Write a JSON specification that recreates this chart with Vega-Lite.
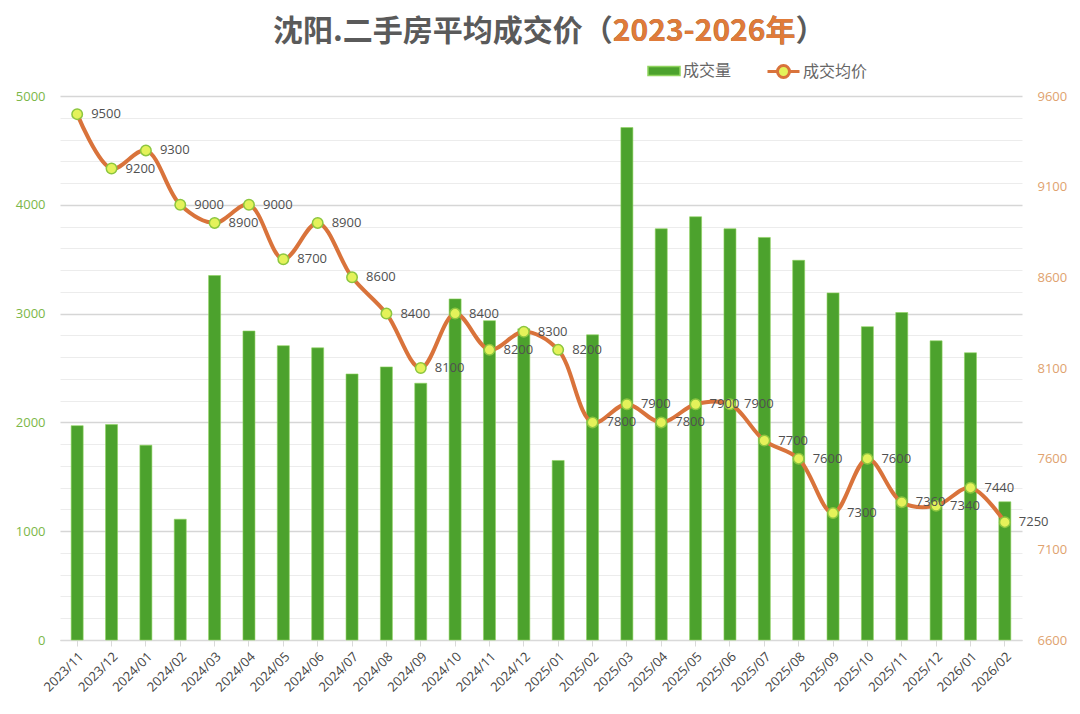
{
  "$schema": "https://vega.github.io/schema/vega-lite/v6.json",
  "width": 962,
  "height": 544,
  "autosize": "none",
  "padding": {"left": 60, "top": 96, "right": 58, "bottom": 74},
  "background": "white",
  "data": {
    "values": [
      {"month": "2023/11", "vol": 1970, "price": 9500},
      {"month": "2023/12", "vol": 1980, "price": 9200},
      {"month": "2024/01", "vol": 1790, "price": 9300},
      {"month": "2024/02", "vol": 1110, "price": 9000},
      {"month": "2024/03", "vol": 3350, "price": 8900},
      {"month": "2024/04", "vol": 2840, "price": 9000},
      {"month": "2024/05", "vol": 2705, "price": 8700},
      {"month": "2024/06", "vol": 2685, "price": 8900},
      {"month": "2024/07", "vol": 2445, "price": 8600},
      {"month": "2024/08", "vol": 2510, "price": 8400},
      {"month": "2024/09", "vol": 2360, "price": 8100},
      {"month": "2024/10", "vol": 3135, "price": 8400},
      {"month": "2024/11", "vol": 2935, "price": 8200},
      {"month": "2024/12", "vol": 2860, "price": 8300},
      {"month": "2025/01", "vol": 1650, "price": 8200},
      {"month": "2025/02", "vol": 2805, "price": 7800},
      {"month": "2025/03", "vol": 4710, "price": 7900},
      {"month": "2025/04", "vol": 3780, "price": 7800},
      {"month": "2025/05", "vol": 3890, "price": 7900},
      {"month": "2025/06", "vol": 3780, "price": 7900},
      {"month": "2025/07", "vol": 3700, "price": 7700},
      {"month": "2025/08", "vol": 3490, "price": 7600},
      {"month": "2025/09", "vol": 3190, "price": 7300},
      {"month": "2025/10", "vol": 2880, "price": 7600},
      {"month": "2025/11", "vol": 3010, "price": 7360},
      {"month": "2025/12", "vol": 2750, "price": 7340},
      {"month": "2026/01", "vol": 2640, "price": 7440},
      {"month": "2026/02", "vol": 1270, "price": 7250}
    ]
  },
  "encoding": {
    "x": {
      "field": "month",
      "type": "ordinal",
      "sort": null,
      "title": null,
      "scale": {"paddingInner": 0, "paddingOuter": 0},
      "axis": {
        "labelAngle": -45,
        "labelAlign": "right",
        "labelFont": "Open Sans",
        "labelFontSize": 13,
        "labelColor": "#444444",
        "labelPadding": 4,
        "domainColor": "#d9d9d9",
        "tickColor": "#d9d9d9",
        "tickSize": 6
      }
    }
  },
  "layer": [
    {
      "mark": {"type": "bar", "size": 12, "color": "#4ca22d", "stroke": "#8fd45e", "strokeWidth": 0.6},
      "encoding": {
        "y": {
          "field": "vol",
          "type": "quantitative",
          "title": "沈阳.二手房平均成交价（2023-2026年）",
          "scale": {"domain": [0, 5000], "nice": false},
          "axis": {
            "values": [0, 200, 400, 600, 800, 1000, 1200, 1400, 1600, 1800, 2000, 2200, 2400, 2600, 2800, 3000, 3200, 3400, 3600, 3800, 4000, 4200, 4400, 4600, 4800, 5000],
            "labelExpr": "datum.value % 1000 === 0 ? datum.value : ''",
            "labelFont": "Open Sans",
            "labelFontSize": 13,
            "labelColor": "#7cb748",
            "labelPadding": 15,
            "domain": false,
            "ticks": false,
            "grid": true,
            "gridColor": {"condition": {"test": "datum.value % 1000 === 0", "value": "#d6d6d6"}, "value": "#ececec"},
            "gridWidth": {"condition": {"test": "datum.value % 1000 === 0", "value": 1.4}, "value": 1},
            "titleAngle": 0,
            "titleAlign": "right",
            "titleBaseline": "alphabetic",
            "titleX": 765,
            "titleY": -56,
            "titleFont": "Noto Sans CJK SC",
            "titleFontSize": 30,
            "titleFontWeight": "bold",
            "titleColor": "#5a5a5a"
          }
        },
        "color": {
          "datum": "成交量",
          "type": "nominal",
          "scale": {"domain": ["成交量"], "range": ["#4ca22d"]},
          "legend": {
            "title": null,
            "orient": "none",
            "legendX": 593,
            "legendY": -36,
            "labelFont": "Noto Sans CJK SC",
            "labelFontSize": 16,
            "labelColor": "#666666",
            "labelOffset": 8,
            "symbolSize": 400,
            "symbolType": "M-1.6,-0.45H1.6V0.45H-1.6Z"
          }
        }
      }
    },
    {
      "layer": [
        {
          "mark": {"type": "line", "interpolate": "catmull-rom", "strokeWidth": 4},
          "encoding": {
            "stroke": {
              "datum": "成交均价",
              "type": "nominal",
              "scale": {"domain": ["成交均价"], "range": ["#d9733b"]},
              "legend": {
                "title": null,
                "orient": "none",
                "legendX": 712,
                "legendY": -36,
                "labelFont": "Noto Sans CJK SC",
                "labelFontSize": 16,
                "labelColor": "#666666",
                "labelOffset": 8,
                "symbolSize": 400,
                "symbolStrokeWidth": 3,
                "symbolFillColor": "#e4f25a",
                "symbolType": "M-1.6,0L-0.6,0M0.6,0L1.6,0M-0.6,0A0.6,0.6 0 1 1 0.6,0A0.6,0.6 0 1 1 -0.6,0"
              }
            }
          }
        },
        {
          "mark": {"type": "point", "filled": true, "size": 110, "fill": "#e4f25a", "stroke": "#8cc63f", "strokeWidth": 1.5, "opacity": 1}
        },
        {
          "mark": {"type": "text", "align": "left", "baseline": "middle", "dx": 14, "font": "Open Sans", "fontSize": 13, "color": "#505050"},
          "encoding": {"text": {"field": "price", "type": "quantitative", "format": "d"}}
        }
      ],
      "encoding": {
        "y": {
          "field": "price",
          "type": "quantitative",
          "title": "2023-2026年",
          "scale": {"domain": [6600, 9600], "nice": false, "zero": false},
          "axis": {
            "orient": "right",
            "values": [6600, 7100, 7600, 8100, 8600, 9100, 9600],
            "format": "d",
            "labelFont": "Open Sans",
            "labelFontSize": 13,
            "labelColor": "#e0a26e",
            "labelPadding": 15,
            "domain": false,
            "ticks": false,
            "grid": false,
            "titleAngle": 0,
            "titleAlign": "right",
            "titleBaseline": "alphabetic",
            "titleX": -227,
            "titleY": -56,
            "titleFont": "Noto Sans CJK SC",
            "titleFontSize": 30,
            "titleFontWeight": "bold",
            "titleColor": "#e07b39"
          }
        }
      }
    }
  ],
  "resolve": {"scale": {"y": "independent"}},
  "config": {"view": {"stroke": null}}
}
